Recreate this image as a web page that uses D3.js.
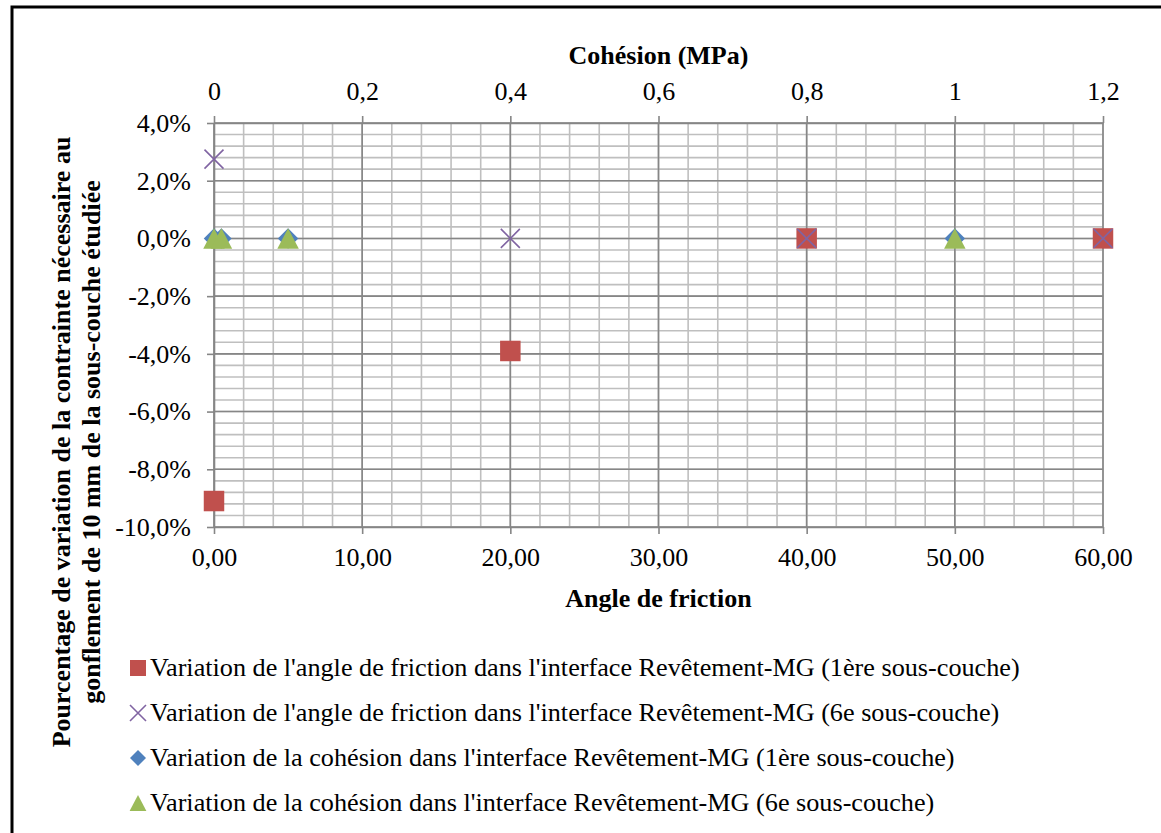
<!DOCTYPE html>
<html><head><meta charset="utf-8">
<script src="https://cdn.jsdelivr.net/npm/d3@7"></script>
<style>
body{margin:0;background:#fff;}
</style></head>
<body><svg id="c" width="1161" height="833"></svg>
<script>
// ---- data ----
const frictionAngles = [0, 20, 40, 60];
const frictionVar1 = [-0.091, -0.039, 0, 0];
const frictionVar6 = [0.0275, 0, 0, 0];
const cohesionValues = [0, 0.01, 0.1, 1];
const cohesionVar1 = [0, 0, 0, 0];
const cohesionVar6 = [0, 0, 0, 0];
const angleTicks = [0, 10, 20, 30, 40, 50, 60];
const cohesionTicks = [0, 0.2, 0.4, 0.6, 0.8, 1, 1.2];
const pctTicks = [0.04, 0.02, 0, -0.02, -0.04, -0.06, -0.08, -0.10];
const seriesNames = [
  "Variation de l'angle de friction dans l'interface Revêtement-MG (1ère sous-couche)",
  "Variation de l'angle de friction dans l'interface Revêtement-MG (6e sous-couche)",
  "Variation de la cohésion dans l'interface Revêtement-MG (1ère sous-couche)",
  "Variation de la cohésion dans l'interface Revêtement-MG (6e sous-couche)"
];
const seriesColors = ["#C0504D", "#8064A2", "#4F81BD", "#9BBB59"];

// ---- setup ----
const FONT = "Liberation Serif, Times New Roman, Times, serif";
const loc = d3.formatLocale({decimal: ",", thousands: " ", grouping: [3], currency: ["", ""], minus: "-", percent: "%"});
const fmtAngle = loc.format(".2f");
const fmtCoh = loc.format("");
const fmtPct = loc.format(".1%");

const svg = d3.select("#c").attr("font-family", FONT);
svg.append("rect").attr("width", 1161).attr("height", 833).attr("fill", "#fff");
svg.append("path").attr("d", "M12,833V7H1161").attr("fill", "none").attr("stroke", "#000").attr("stroke-width", 3);

const L = 214, R = 1103, T = 123, B = 527;
const x = d3.scaleLinear().domain([0, 60]).range([L, R]);
const x2 = d3.scaleLinear().domain([0, 1.2]).range([L, R]);
const y = d3.scaleLinear().domain([-0.10, 0.04]).range([B, T]);

const minorCol = "#BFBFBF", majorCol = "#868686";
const g = svg.append("g");
g.selectAll(".mv").data(d3.range(0, 61, 2)).join("line")
  .attr("x1", d => x(d)).attr("x2", d => x(d)).attr("y1", T).attr("y2", B)
  .attr("stroke", minorCol).attr("stroke-width", 1.6);
g.selectAll(".mh").data(d3.range(-100, 41, 4).map(v => v / 1000)).join("line")
  .attr("x1", L).attr("x2", R).attr("y1", d => y(d)).attr("y2", d => y(d))
  .attr("stroke", minorCol).attr("stroke-width", 1.6);
g.selectAll(".Mv").data(angleTicks).join("line")
  .attr("x1", d => x(d)).attr("x2", d => x(d)).attr("y1", T).attr("y2", B)
  .attr("stroke", majorCol).attr("stroke-width", 1.6);
g.selectAll(".Mh").data(pctTicks).join("line")
  .attr("x1", L).attr("x2", R).attr("y1", d => y(d)).attr("y2", d => y(d))
  .attr("stroke", majorCol).attr("stroke-width", 1.6);

function styleAxis(sel) {
  sel.attr("font-family", FONT).attr("font-size", 26);
  sel.selectAll("path.domain").attr("stroke", majorCol).attr("stroke-width", 1.6);
  sel.selectAll(".tick line").attr("stroke", majorCol).attr("stroke-width", 1.6);
  sel.selectAll(".tick text").attr("font-family", FONT).attr("font-size", 26).attr("fill", "#000");
}
svg.append("g").attr("transform", `translate(0,${B})`)
  .call(d3.axisBottom(x).tickValues(angleTicks).tickFormat(fmtAngle).tickSize(7).tickSizeOuter(0).tickPadding(14))
  .call(styleAxis);
svg.append("g").attr("transform", `translate(0,${T})`)
  .call(d3.axisTop(x2).tickValues(cohesionTicks).tickFormat(fmtCoh).tickSize(7).tickSizeOuter(0).tickPadding(16))
  .call(styleAxis);
svg.append("g").attr("transform", `translate(${L},0)`)
  .call(d3.axisLeft(y).tickValues(pctTicks).tickFormat(fmtPct).tickSize(7).tickSizeOuter(0).tickPadding(16))
  .call(styleAxis);

function txt() { return svg.append("text").attr("font-family", FONT).attr("fill", "#000"); }
txt().attr("x", (L + R) / 2).attr("y", 64).attr("text-anchor", "middle")
  .attr("font-size", 26).attr("font-weight", "bold").text("Cohésion (MPa)");
txt().attr("x", (L + R) / 2).attr("y", 607).attr("text-anchor", "middle")
  .attr("font-size", 26).attr("font-weight", "bold").text("Angle de friction");
const yt = ["Pourcentage de variation de la contrainte nécessaire au", "gonflement de 10 mm de la sous-couche étudiée"];
yt.forEach((t, i) => {
  txt().attr("transform", `translate(${70 + i * 30},442) rotate(-90)`)
    .attr("text-anchor", "middle").attr("font-size", 26).attr("font-weight", "bold").text(t);
});

function sq(s) { const h = s / 2; return `M${-h},${-h}H${h}V${h}H${-h}Z`; }
function cross(s) { const h = s / 2; return `M${-h},${-h}L${h},${h}M${h},${-h}L${-h},${h}`; }
function diamond(s) { const h = s / 2; return `M0,${-h}L${h},0L0,${h}L${-h},0Z`; }
function tri(s) { const h = s / 2; return `M0,${-h}L${h * 1.05},${h}L${-h * 1.05},${h}Z`; }
const shapes = [sq, cross, diamond, tri];

function drawMarker(sel, i, s) {
  const p = sel.append("path").attr("d", shapes[i](s));
  if (i === 1) p.attr("fill", "none").attr("stroke", seriesColors[i]).attr("stroke-width", 1.6);
  else p.attr("fill", seriesColors[i]);
}

const plotSeries = [
  {xs: frictionAngles, ys: frictionVar1, sx: x},
  {xs: frictionAngles, ys: frictionVar6, sx: x},
  {xs: cohesionValues, ys: cohesionVar1, sx: x2},
  {xs: cohesionValues, ys: cohesionVar6, sx: x2}
];
plotSeries.forEach((s, i) => {
  s.xs.forEach((xv, k) => {
    const m = svg.append("g").attr("transform", `translate(${s.sx(xv)},${y(s.ys[k])})`);
    drawMarker(m, i, i === 1 ? 19 : 20.5);
  });
});

seriesNames.forEach((n, i) => {
  const by = 676 + i * 45;
  const m = svg.append("g").attr("transform", `translate(138,${by - 8})`);
  drawMarker(m, i, 16);
  txt().attr("x", 150).attr("y", by).attr("font-size", 26.2).text(n);
});
</script></body></html>
